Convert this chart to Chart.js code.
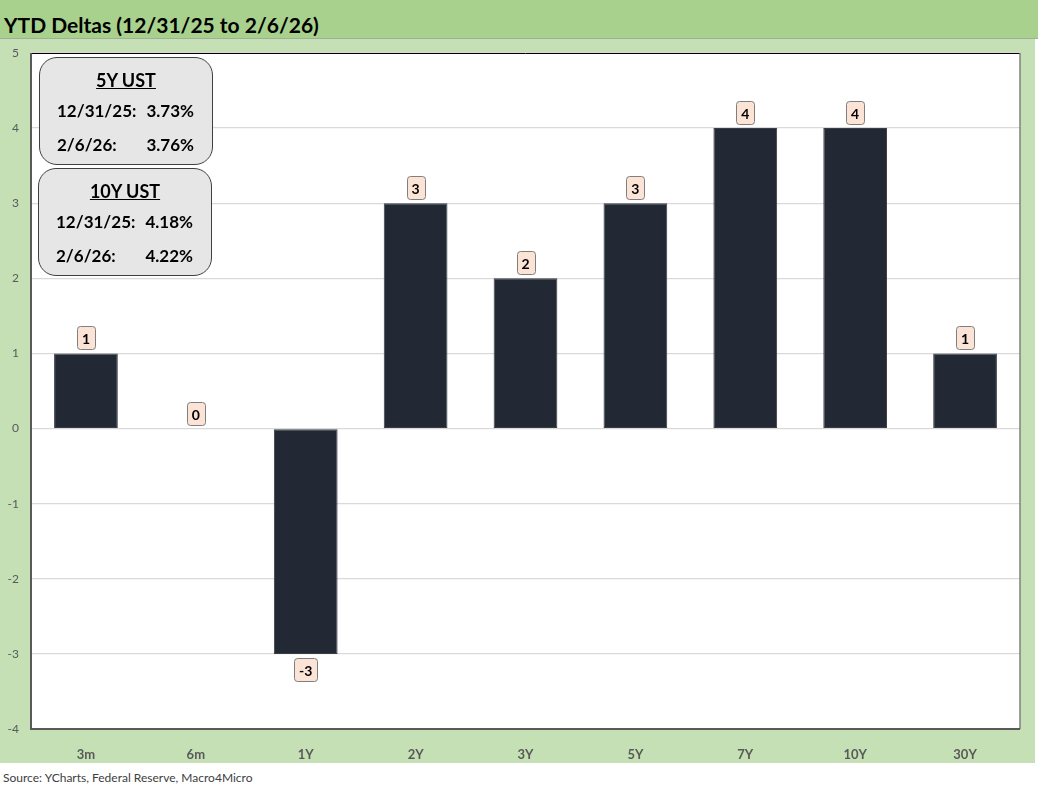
<!DOCTYPE html>
<html>
<head>
<meta charset="utf-8">
<script src="https://cdn.jsdelivr.net/npm/chart.js@4.4.1/dist/chart.umd.min.js"></script>
<style>
  body { margin: 0; width: 1038px; height: 793px; background: #fff; position: relative; overflow: hidden; font-family: Lato, sans-serif; }
  #titlebar { position: absolute; left: 0; top: 0; width: 1038px; height: 38px; background: #a9d18e; border-bottom: 1px solid #9fae96; }
  #title { position: absolute; left: 4px; top: 14px; line-height: 22px; font-size: 21px; font-weight: bold; color: #000; white-space: nowrap; }
  #panel { position: absolute; left: 0; top: 39px; width: 1035px; height: 724px; background: #c5e0b4; }
  #chart { position: absolute; left: 0; top: 39px; }
  .info { position: absolute; width: 174px; height: 108px; box-sizing: border-box; background: #e7e6e6; border: 1px solid #404040; border-radius: 18px; }
  .info .head { position: absolute; left: 0; right: 0; top: 12px; line-height: 20px; font-size: 18px; font-weight: bold; text-align: center; text-decoration: underline; }
  .info .row { position: absolute; left: 17px; right: 18px; line-height: 20px; font-size: 17px; font-weight: bold; }
  .info .row span { position: absolute; right: 0; top: 0; }
  #source { position: absolute; left: 3px; top: 770px; line-height: 16px; font-size: 12px; color: #404040; white-space: nowrap; }
</style>
</head>
<body>
<div id="titlebar"></div>
<div id="title">YTD Deltas (12/31/25 to 2/6/26)</div>
<div id="panel"></div>
<canvas id="chart" width="1035" height="724"></canvas>
<div id="source">Source: YCharts, Federal Reserve, Macro4Micro</div>

<script>
// 만기별 YTD 변동 (bp)
const tenors = ['3m', '6m', '1Y', '2Y', '3Y', '5Y', '7Y', '10Y', '30Y'];
const deltas = [1, 0, -3, 3, 2, 3, 4, 4, 1];
const yTicks = [-4, -3, -2, -1, 0, 1, 2, 3, 4, 5];

// 안내 박스 내용
const infoTitles = ['5Y UST', '10Y UST'];
const infoDates = ['12/31/25:', '2/6/26:'];
const infoYields = [['3.73%', '3.76%'], ['4.18%', '4.22%']];

const colors = {
    bar: '#222935',
    barEdge: '#3a3d42',
    grid: '#d9d9d9',
    tick: '#595959',
    axis: '#595959',
    boxFill: '#fbe4d5',
    boxEdge: '#7f7f7f'
};

// 안내 박스 그리기
const boxSpots = [{ left: 39, top: 57 }, { left: 38, top: 168 }];
infoTitles.forEach((t, i) => {
    const box = document.createElement('div');
    box.className = 'info';
    box.style.left = boxSpots[i].left + 'px';
    box.style.top = boxSpots[i].top + 'px';
    let html = '<div class="head">' + t + '</div>';
    infoDates.forEach((d, j) => {
        html += '<div class="row" style="top:' + (j === 0 ? 43 : 77) + 'px">' + d +
            '<span>' + infoYields[i][j] + '</span></div>';
    });
    box.innerHTML = html;
    document.body.appendChild(box);
});

// 플롯 영역 배경과 테두리
const plotFrame = {
    id: 'plotFrame',
    beforeDraw(chart) {
        const { ctx, chartArea: a } = chart;
        ctx.save();
        ctx.fillStyle = '#fff';
        ctx.fillRect(a.left, a.top, a.right - a.left, a.bottom - a.top);
        ctx.restore();
    },
    afterDraw(chart) {
        const { ctx, chartArea: a } = chart;
        ctx.save();
        ctx.lineWidth = 1;
        ctx.strokeStyle = '#000';
        ctx.beginPath(); ctx.moveTo(a.left, a.top + 0.5); ctx.lineTo(a.right, a.top + 0.5); ctx.stroke();
        ctx.lineWidth = 1.5;
        ctx.strokeStyle = '#7f7f7f';
        ctx.beginPath(); ctx.moveTo(a.right, a.top); ctx.lineTo(a.right, a.bottom); ctx.stroke();
        ctx.lineWidth = 2;
        ctx.strokeStyle = colors.axis;
        ctx.beginPath();
        ctx.moveTo(a.left, a.top); ctx.lineTo(a.left, a.bottom); ctx.lineTo(a.right, a.bottom);
        ctx.stroke();
        ctx.restore();
    }
};

// 값 라벨 박스
const valueBoxes = {
    id: 'valueBoxes',
    afterDatasetsDraw(chart) {
        const ctx = chart.ctx;
        const meta = chart.getDatasetMeta(0);
        ctx.save();
        ctx.font = 'bold 14px Lato';
        ctx.textAlign = 'center';
        ctx.textBaseline = 'middle';
        meta.data.forEach((bar, i) => {
            const v = deltas[i];
            const txt = String(v);
            const w = Math.round(ctx.measureText(txt).width + 10);
            const h = 23;
            const x = Math.round(bar.x - w / 2) + 0.5;
            const y = Math.round(v < 0 ? bar.y + 4 : bar.y - 4 - h) + 0.5;
            ctx.beginPath();
            ctx.roundRect(x, y, w, h, 3);
            ctx.fillStyle = colors.boxFill;
            ctx.fill();
            ctx.lineWidth = 1;
            ctx.strokeStyle = colors.boxEdge;
            ctx.stroke();
            ctx.fillStyle = '#000';
            ctx.fillText(txt, bar.x, y + h / 2 + 1);
        });
        ctx.restore();
    }
};

new Chart(document.getElementById('chart').getContext('2d'), {
    type: 'bar',
    data: {
        labels: tenors,
        datasets: [{
            data: deltas,
            backgroundColor: colors.bar,
            borderColor: colors.barEdge,
            borderWidth: deltas.map(v => (v === 0 ? 0 : 1)),
            borderSkipped: false,
            categoryPercentage: 1,
            barPercentage: 0.58
        }]
    },
    options: {
        responsive: false,
        animation: false,
        layout: { padding: { top: 14, right: 15, left: 0, bottom: 0 } },
        plugins: {
            legend: { display: false },
            tooltip: { enabled: false }
        },
        scales: {
            x: {
                grid: { display: false },
                border: { display: false },
                ticks: {
                    color: colors.tick,
                    font: { family: 'Lato', size: 13, weight: 'bold' },
                    padding: 10,
                    maxRotation: 0
                },
                afterFit(s) { s.height = 34; }
            },
            y: {
                min: yTicks[0],
                max: yTicks[yTicks.length - 1],
                afterBuildTicks(s) { s.ticks = yTicks.map(v => ({ value: v })); },
                grid: { color: colors.grid, lineWidth: 1.3, drawTicks: true, tickLength: 12, tickColor: 'transparent' },
                border: { display: false },
                ticks: {
                    color: colors.tick,
                    font: { family: 'Lato', size: 12 },
                    padding: 0
                },
                afterFit(s) { s.width = 31; }
            }
        }
    },
    plugins: [plotFrame, valueBoxes]
});
</script>
</body>
</html>
